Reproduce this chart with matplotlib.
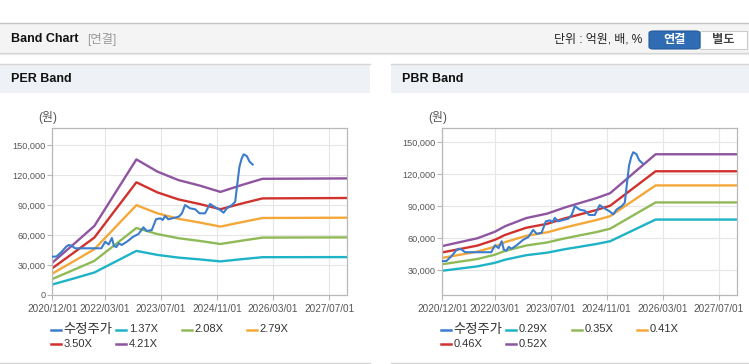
import matplotlib
matplotlib.use("Agg")
import matplotlib.pyplot as plt
from matplotlib.patches import Rectangle, FancyBboxPatch
from matplotlib.lines import Line2D

plt.rcParams['font.family'] = ['Liberation Sans', 'Noto Sans CJK KR']

# ---- data (months counted from 2020/12, values in won) ----
date_labels = ['2020/12/01', '2022/03/01', '2023/07/01', '2024/11/01', '2026/03/01', '2027/07/01']
date_ticks = [0, 15, 31, 47, 63, 79]

price_m = [0, 1.2, 2.7, 4.0, 4.7, 5.5, 6.5, 14.0, 15.1, 16.1, 17.0, 17.6, 18.3, 19.0, 19.8,
           21.3, 23.1, 24.6, 26.0, 27.0, 28.4, 29.6, 30.8, 31.5, 32.2, 33.1, 36.1, 37.0, 37.9,
           39.3, 40.8, 42.0, 43.6, 45.0, 46.5, 47.9, 48.9, 49.8, 51.3, 52.2, 52.7, 53.4, 54.0,
           54.6, 55.5, 56.3, 57.2]
price = [38300, 38500, 43300, 48500, 50000, 49300, 46700, 46700, 53300, 50500, 57000, 49000,
         48000, 51700, 50000, 53300, 58300, 61000, 67700, 64000, 65000, 75700, 76700, 75000,
         79000, 75700, 78300, 81700, 90000, 86700, 85700, 81700, 81700, 91000, 87700, 85000,
         82300, 86700, 90000, 93300, 108000, 128000, 136000, 140700, 139000, 133300, 130500]

per_m = [0, 6, 12, 18, 24, 30, 36, 42, 48, 54, 60, 84]
per_labels = ['1.37X', '2.08X', '2.79X', '3.50X', '4.21X']
per_137 = [10500, 16400, 22500, 33300, 44100, 40100, 37400, 35600, 33600, 35800, 37800, 37900]
per_208 = [16000, 25000, 34100, 50500, 67000, 60900, 56800, 54100, 51000, 54300, 57400, 57600]
per_279 = [21400, 33500, 45800, 67800, 89800, 81700, 76200, 72500, 68400, 72800, 77000, 77300]
per_350 = [26800, 42000, 57400, 85100, 112700, 102600, 95600, 91000, 85800, 91400, 96600, 97000]
per_421 = [32300, 50500, 69000, 102300, 135600, 123400, 114900, 109500, 103100, 109900, 116200, 116600]

pbr_m = [0, 10, 15, 18, 24, 30, 35, 40, 44, 48, 61, 84]
pbr_labels = ['0.29X', '0.35X', '0.41X', '0.46X', '0.52X']
pbr_029 = [29300, 33400, 36700, 39700, 43900, 46300, 49500, 52200, 54400, 57000, 77400, 77400]
pbr_035 = [35400, 40300, 44300, 48000, 53000, 55900, 59700, 63000, 65600, 68800, 93500, 93500]
pbr_041 = [41400, 47200, 51900, 56200, 62100, 65400, 69900, 73800, 76900, 80600, 109500, 109500]
pbr_046 = [46500, 52900, 58300, 63000, 69700, 73400, 78500, 82800, 86300, 90400, 122800, 122800]
pbr_052 = [52500, 59800, 65900, 71200, 78800, 83000, 88700, 93600, 97500, 102200, 138800, 138800]

per_yticks = [0, 30000, 60000, 90000, 120000, 150000]
pbr_yticks = [30000, 60000, 90000, 120000, 150000]

price_color = '#3b7dcc'
band_colors = ['#1eb3c6', '#8fba57', '#f5a83a', '#d0322e', '#8f55a0']

W, H = 749, 364


def fx(px):
    return px / W


def fy(py):
    return 1 - py / H


def rect(fig, x0, y0, x1, y1, **kw):
    fig.patches.append(Rectangle((fx(x0), fy(y1)), (x1 - x0) / W, (y1 - y0) / H,
                                 transform=fig.transFigure, **kw))


def hline(fig, x0, x1, y, color, lw=1):
    fig.add_artist(Line2D([fx(x0), fx(x1)], [fy(y), fy(y)], transform=fig.transFigure,
                          color=color, lw=lw))


def band_axes(fig, left, right, top, bottom, ylim, yticks, bands, labels, band_m):
    ax = fig.add_axes([fx(left), fy(bottom), (right - left) / W, (bottom - top) / H])
    ax.plot(price_m, price, color=price_color, lw=1.5, zorder=3)
    for vals, c in zip(bands, band_colors):
        ax.plot(band_m, vals, color=c, lw=1.7, zorder=2)
    ax.set_xlim(0, 84.2)
    ax.set_ylim(*ylim)
    ax.set_xticks(date_ticks)
    ax.set_xticklabels(date_labels, fontsize=7.2, color='#555555')
    ax.set_yticks(yticks)
    ax.set_yticklabels([f"{v:,}" for v in yticks], fontsize=6.6, color='#555555')
    ax.tick_params(axis='both', direction='out', length=3.5, width=0.8, color='#b8b8b8')
    ax.tick_params(axis='x', pad=3)
    ax.tick_params(axis='y', pad=1.5)
    ax.grid(True, color='#e6e6e6', lw=0.8)
    ax.set_axisbelow(True)
    for s in ax.spines.values():
        s.set_color('#b8b8b8')
        s.set_linewidth(0.9)

    fig.text(fx(left - 5), fy(118), '(원)', fontsize=8.6, color='#555555',
             ha='center', va='center')

    # legend, laid out like the page (4 per row)
    names = ['수정주가'] + labels
    colors = [price_color] + band_colors
    x_start = left - 1.5
    for i, (n, c) in enumerate(zip(names, colors)):
        row, col = divmod(i, 4)
        lx = x_start + col * 65.5
        ly = 329.5 + row * 14.5
        fig.add_artist(Line2D([fx(lx), fx(lx + 10)], [fy(ly), fy(ly)],
                              transform=fig.transFigure, color=c, lw=1.8))
        fs = 9.6 if i == 0 else 8
        fig.text(fx(lx + 12.5), fy(ly), n, fontsize=fs, color='#333333',
                 ha='left', va='center')
    return ax


fig = plt.figure(figsize=(W / 100, H / 100), dpi=100)
fig.patch.set_facecolor('white')

# top header bar
hline(fig, 0, W, 22.5, '#c4c4c4', lw=1.0)
rect(fig, 0, 23, W, 52.5, color='#f4f4f4', lw=0)
hline(fig, 0, W, 53, '#d4d4d4', lw=0.9)
hline(fig, 0, W, 54.2, '#e8e8e8', lw=0.9)
fig.text(fx(11), fy(39.5), 'Band Chart', fontsize=9, fontweight='bold', color='#111111',
         ha='left', va='center')
fig.text(fx(87), fy(39.5), '[연결]', fontsize=8.8, color='#999999', ha='left', va='center')
fig.text(fx(642), fy(40), '단위 : 억원, 배, %', fontsize=8.6, color='#222222',
         ha='right', va='center')
fig.patches.append(FancyBboxPatch((fx(700), fy(49)), 47 / W, 18 / H,
                                  boxstyle='square,pad=0', transform=fig.transFigure,
                                  facecolor='white', edgecolor='#cccccc', lw=0.8))
fig.patches.append(FancyBboxPatch((fx(649), fy(49)), 51 / W, 18 / H,
                                  boxstyle='round,pad=0,rounding_size=0.006',
                                  transform=fig.transFigure,
                                  facecolor='#2f6cb3', edgecolor='#255a99', lw=0.8))
fig.text(fx(674.5), fy(40), '연결', fontsize=8.8, fontweight='bold', color='white',
         ha='center', va='center')
fig.text(fx(723.5), fy(40), '별도', fontsize=8.8, fontweight='bold', color='#444444',
         ha='center', va='center')

# panel headers
for x0, x1, title in [(0, 370, 'PER Band'), (391, W, 'PBR Band')]:
    hline(fig, x0, x1, 64, '#d6d6d6', lw=1.0)
    rect(fig, x0, 64.5, x1, 93, color='#eef1f6', lw=0)
    hline(fig, x0, x1, 362.5, '#d6d6d6', lw=1.0)
    fig.text(fx(x0 + 11), fy(79.5), title, fontsize=9, fontweight='bold', color='#111111',
             ha='left', va='center')

band_axes(fig, 52.3, 347.3, 128.3, 295, (0, 166700), per_yticks,
          [per_137, per_208, per_279, per_350, per_421], per_labels, per_m)
band_axes(fig, 442.3, 736.7, 128.3, 295.3, (6200, 163200), pbr_yticks,
          [pbr_029, pbr_035, pbr_041, pbr_046, pbr_052], pbr_labels, pbr_m)

fig.savefig('out.png', dpi=100)
